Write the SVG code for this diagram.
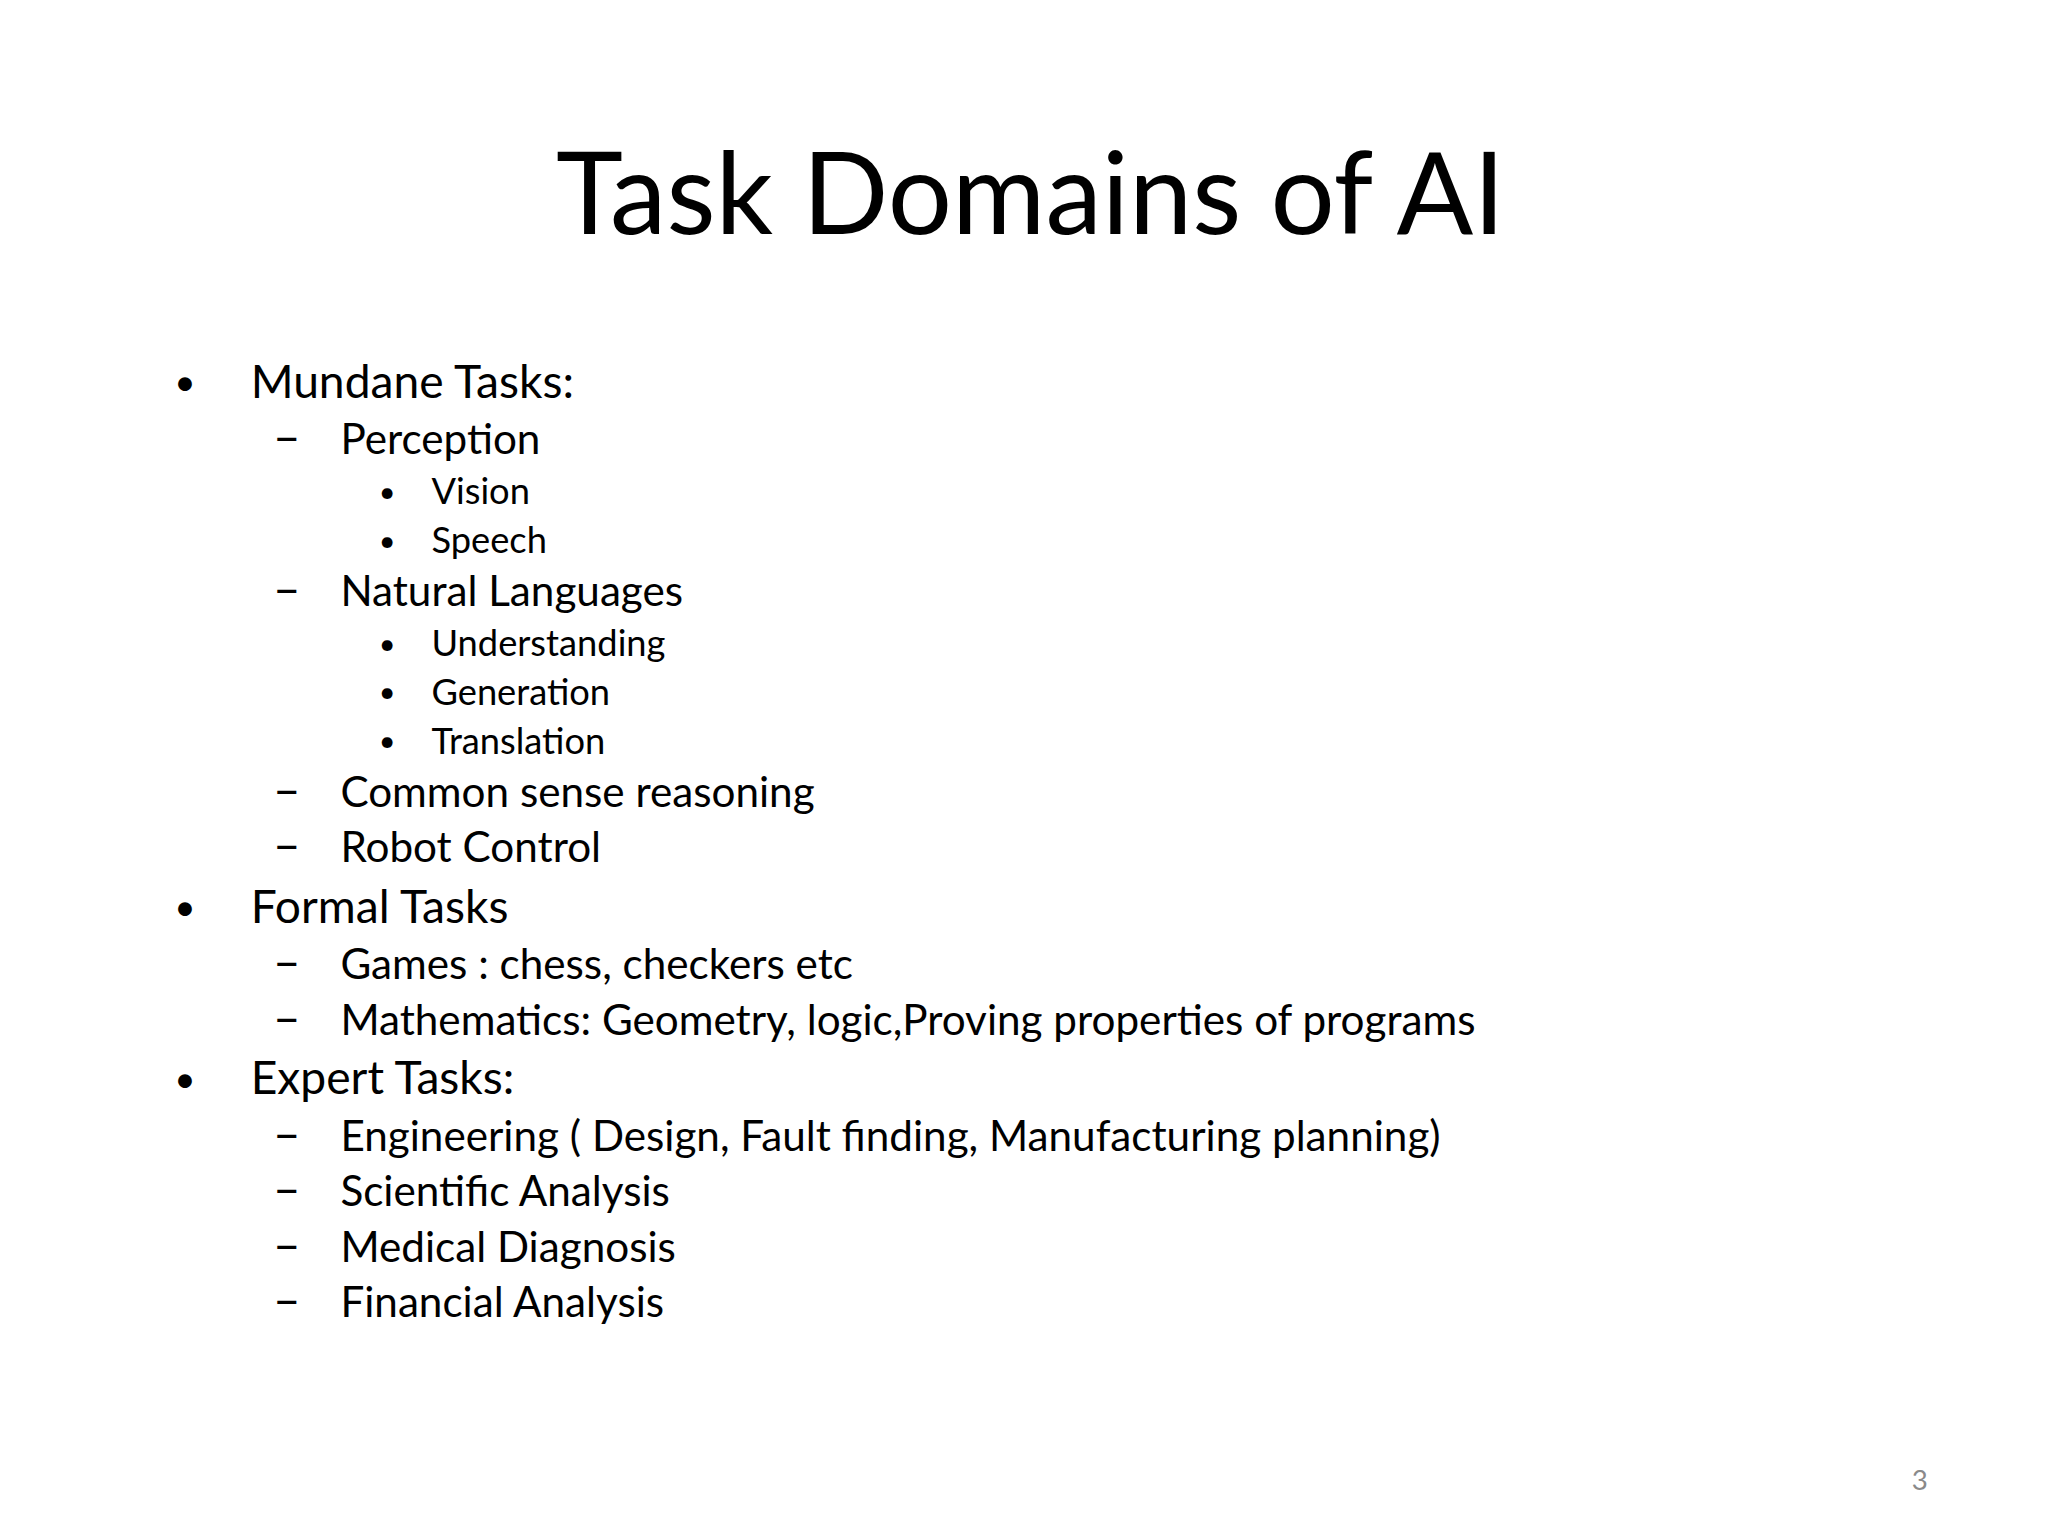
<svg xmlns="http://www.w3.org/2000/svg" width="2048" height="1536" viewBox="0 0 2048 1536">
<style>
text{font-family:Lato,"Open Sans","Liberation Sans",sans-serif;fill:#000}
.t{font-size:86px}
.l1{font-size:35px}
.l2{font-size:32px}
.l3{font-size:27.5px}
.b1{font-size:28px}
.b3{font-size:22px}
.d{font-size:36px}
.pg{font-size:21px;fill:#8a8a8a}
</style>
<rect width="2048" height="1536" fill="#fff"/>
<g transform="translate(-4,-1) scale(1.3196)">
<text class="t" x="784" y="178" text-anchor="middle">Task Domains of AI</text>
<g id="mundane">
<text class="b1" x="135" y="300">•</text><text class="l1" x="193" y="302">Mundane Tasks:</text>
<text class="d" x="210" y="345">–</text><text class="l2" x="261" y="345">Perception</text>
<text class="b3" x="290" y="381">•</text><text class="l3" x="330" y="383">Vision</text>
<text class="b3" x="290" y="418">•</text><text class="l3" x="330" y="420">Speech</text>
<text class="d" x="210" y="460">–</text><text class="l2" x="261" y="460">Natural Languages</text>
<text class="b3" x="290" y="496">•</text><text class="l3" x="330" y="498">Understanding</text>
<text class="b3" x="290" y="533">•</text><text class="l3" x="330" y="535">Generation</text>
<text class="b3" x="290" y="570">•</text><text class="l3" x="330" y="572">Translation</text>
<text class="d" x="210" y="612">–</text><text class="l2" x="261" y="612">Common sense reasoning</text>
<text class="d" x="210" y="654">–</text><text class="l2" x="261" y="654">Robot Control</text>
</g>
<g id="formal">
<text class="b1" x="135" y="698">•</text><text class="l1" x="193" y="700">Formal Tasks</text>
<text class="d" x="210" y="743">–</text><text class="l2" x="261" y="743">Games : chess, checkers etc</text>
<text class="d" x="210" y="785">–</text><text class="l2" x="261" y="785">Mathematics: Geometry, logic,Proving properties of programs</text>
</g>
<g id="expert">
<text class="b1" x="135" y="828">•</text><text class="l1" x="193" y="830">Expert Tasks:</text>
<text class="d" x="210" y="873">–</text><text class="l2" x="261" y="873">Engineering ( Design, Fault finding, Manufacturing planning)</text>
<text class="d" x="210" y="915">–</text><text class="l2" x="261" y="915">Scientific Analysis</text>
<text class="d" x="210" y="957">–</text><text class="l2" x="261" y="957">Medical Diagnosis</text>
<text class="d" x="210" y="999">–</text><text class="l2" x="261" y="999">Financial Analysis</text>
</g>
<text class="pg" x="1464" y="1130" text-anchor="end">3</text>
</g>
</svg>
